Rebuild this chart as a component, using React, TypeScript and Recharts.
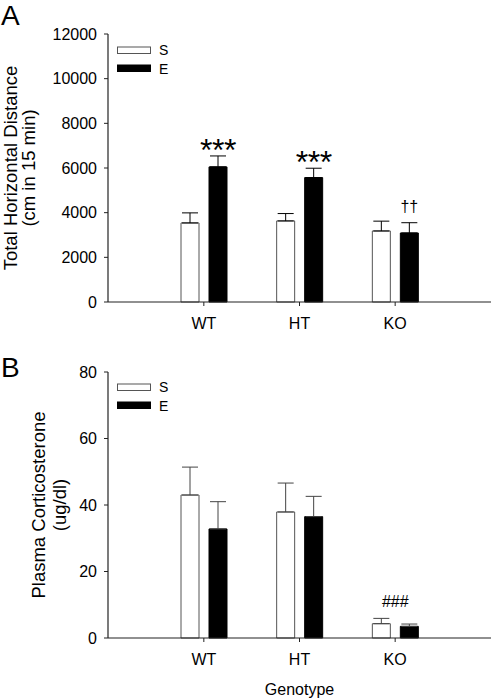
import React from 'react';
import { BarChart, Bar, XAxis, YAxis, ErrorBar, Legend, Label, LabelList } from 'recharts';

const genotypes = ['WT', 'HT', 'KO'];

// panel A: total horizontal distance (cm in 15 min)
const distS = [3540, 3630, 3180];
const distSErr = [450, 330, 440];
const distE = [6050, 5570, 3090];
const distEErr = [490, 420, 460];
const distNotes = ['***', '***', '††'];
const distTicks = [0, 2000, 4000, 6000, 8000, 10000, 12000];

// panel B: plasma corticosterone (ug/dl)
const cortS = [43.0, 37.9, 4.3];
const cortSErr = [8.4, 8.7, 1.6];
const cortE = [32.8, 36.5, 3.5];
const cortEErr = [8.2, 6.1, 0.7];
const cortNotes = ['', '', '###'];
const cortTicks = [0, 20, 40, 60, 80];

const legendOrder = ['S', 'E'];

const FONT = '"Liberation Sans", Arial, Helvetica, sans-serif';
const AXIS = '#222';
const S_STROKE = '#555';

const distData = genotypes.map((g, i) => ({
  name: g,
  s: distS[i],
  e: distE[i],
  sErr: [0, distSErr[i]],
  eErr: [0, distEErr[i]],
  sErrVal: distSErr[i],
  eErrVal: distEErr[i],
  note: distNotes[i],
}));

const cortData = genotypes.map((g, i) => ({
  name: g,
  s: cortS[i],
  e: cortE[i],
  sErr: [0, cortSErr[i]],
  eErr: [0, cortEErr[i]],
  sErrVal: cortSErr[i],
  eErrVal: cortEErr[i],
  note: cortNotes[i],
}));

const swatch: Record<string, { fill: string; stroke: string }> = {
  S: { fill: '#fff', stroke: S_STROKE },
  E: { fill: '#000', stroke: '#000' },
};

const LegendBox = ({ payload }: any) => {
  const items = [...(payload || [])].sort(
    (a: any, b: any) => legendOrder.indexOf(a.value) - legendOrder.indexOf(b.value)
  );
  return (
    <div>
      {items.map((p: any) => (
        <div key={p.value} style={{ display: 'flex', alignItems: 'center', height: 18.5 }}>
          <svg width={35} height={9}>
            <rect x={0.5} y={1} width={33} height={6.5}
              fill={swatch[p.value]?.fill} stroke={swatch[p.value]?.stroke} />
          </svg>
          <span style={{ marginLeft: 7, fontSize: 14, fontFamily: FONT, color: '#000', lineHeight: '14px' }}>
            {p.value}
          </span>
        </div>
      ))}
    </div>
  );
};

const yTitle = (line1: string, line2: string, x1: number, x2: number) => (props: any) => {
  const vb = props.viewBox || {};
  const cy = vb.y + vb.height / 2;
  return (
    <g>
      <text x={x1} y={cy} transform={`rotate(-90, ${x1}, ${cy})`} textAnchor="middle"
        fontSize={18.5} fontFamily={FONT} fill="#000">{line1}</text>
      <text x={x2} y={cy} transform={`rotate(-90, ${x2}, ${cy})`} textAnchor="middle"
        fontSize={18.5} fontFamily={FONT} fill="#000">{line2}</text>
    </g>
  );
};

// significance marks sit just above the top of the error bar
const noteLook = (note: string) => {
  if (note === '***') return { size: 32, dy: 5, spacing: -0.5 };
  return { size: 16, dy: -11, spacing: 0 };
};

const noteLabel = (rows: any[], errKey: string, centerOnGroup: boolean) => (props: any) => {
  const { x, y, width, height, value, index } = props;
  const row = rows[index] ?? rows.find((r) => r.s === value || r.e === value);
  if (!row || !row.note || !value) return null;
  const ppu = Number(height) / Number(value);
  const errTop = Number(y) - row[errKey] * ppu;
  const look = noteLook(row.note);
  const cx = centerOnGroup ? Number(x) + Number(width) + 5 : Number(x) + Number(width) / 2;
  return (
    <text x={cx} y={errTop + look.dy} textAnchor="middle" fontSize={look.size}
      letterSpacing={look.spacing} fontFamily={FONT} fill="#000">{row.note}</text>
  );
};

const tickStyle = { fontSize: 16, fill: '#000', fontFamily: FONT };

export default function App() {
  return (
    <div style={{ position: 'absolute', left: 0, top: 0, width: 492, height: 699, background: '#fff' }}>
      <div style={{ position: 'absolute', left: 0, top: 0 }}>
        <BarChart width={492} height={335} data={distData} barSize={18} barGap={10}
          margin={{ top: 34, right: 1, bottom: 0, left: 0 }}>
          <XAxis dataKey="name" height={33} interval={0} padding={{ left: 48, right: 48 }}
            tickSize={4} tickMargin={12} tick={tickStyle}
            axisLine={{ stroke: AXIS, strokeWidth: 1.2 }} tickLine={{ stroke: AXIS }} />
          <YAxis type="number" width={108} domain={[0, 12000]} ticks={distTicks} interval={0}
            tickSize={4} tickMargin={7} tick={tickStyle}
            axisLine={{ stroke: AXIS, strokeWidth: 1.2 }} tickLine={{ stroke: AXIS }}>
            <Label content={yTitle('Total Horizontal Distance', '(cm in 15 min)', 17, 35)} />
          </YAxis>
          <Legend layout="vertical" align="center" verticalAlign="middle" content={<LegendBox />}
            wrapperStyle={{ top: 41, left: 117, width: 'auto' }} />
          <Bar dataKey="s" name="S" fill="#fff" stroke={S_STROKE} strokeWidth={1} isAnimationActive={false}>
            <ErrorBar dataKey="sErr" direction="y" width={8} stroke="#000" strokeWidth={1} isAnimationActive={false} />
          </Bar>
          <Bar dataKey="e" name="E" fill="#000" stroke="#000" strokeWidth={1} isAnimationActive={false}>
            <ErrorBar dataKey="eErr" direction="y" width={8} stroke="#000" strokeWidth={1} isAnimationActive={false} />
            <LabelList dataKey="e" content={noteLabel(distData, 'eErrVal', false)} />
          </Bar>
        </BarChart>
      </div>
      <div style={{ position: 'absolute', left: 0, top: 340 }}>
        <BarChart width={492} height={359} data={cortData} barSize={18} barGap={10}
          margin={{ top: 32, right: 1, bottom: 0, left: 0 }}>
          <XAxis dataKey="name" height={61} interval={0} padding={{ left: 48, right: 48 }}
            tickSize={4} tickMargin={12} tick={tickStyle}
            axisLine={{ stroke: AXIS, strokeWidth: 1.2 }} tickLine={{ stroke: AXIS }}>
            <Label content={(p: any) => {
              const vb = p.viewBox || {};
              return (
                <text x={vb.x + vb.width / 2} y={355} textAnchor="middle" fontSize={16}
                  fontFamily={FONT} fill="#000">Genotype</text>
              );
            }} />
          </XAxis>
          <YAxis type="number" width={108} domain={[0, 80]} ticks={cortTicks} interval={0}
            tickSize={4} tickMargin={7} tick={tickStyle}
            axisLine={{ stroke: AXIS, strokeWidth: 1.2 }} tickLine={{ stroke: AXIS }}>
            <Label content={yTitle('Plasma Corticosterone', '(ug/dl)', 45, 66)} />
          </YAxis>
          <Legend layout="vertical" align="center" verticalAlign="middle" content={<LegendBox />}
            wrapperStyle={{ top: 38, left: 117, width: 'auto' }} />
          <Bar dataKey="s" name="S" fill="#fff" stroke={S_STROKE} strokeWidth={1} isAnimationActive={false}>
            <ErrorBar dataKey="sErr" direction="y" width={8} stroke="#444" strokeWidth={1} isAnimationActive={false} />
            <LabelList dataKey="s" content={noteLabel(cortData, 'sErrVal', true)} />
          </Bar>
          <Bar dataKey="e" name="E" fill="#000" stroke="#000" strokeWidth={1} isAnimationActive={false}>
            <ErrorBar dataKey="eErr" direction="y" width={8} stroke="#444" strokeWidth={1} isAnimationActive={false} />
          </Bar>
        </BarChart>
      </div>
      <svg width={492} height={699} style={{ position: 'absolute', left: 0, top: 0, pointerEvents: 'none' }}>
        <text x={1} y={25} fontSize={28} fontFamily={FONT} fill="#000">A</text>
        <text x={1} y={377} fontSize={28} fontFamily={FONT} fill="#000">B</text>
      </svg>
    </div>
  );
}
